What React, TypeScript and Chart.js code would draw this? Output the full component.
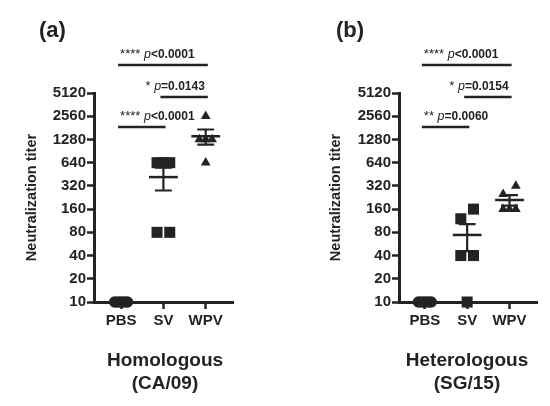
import React, { useEffect, useRef } from "react";
import { Chart, registerables } from "chart.js";

Chart.register(...registerables);

// ---------- data ----------
const groups = ["PBS", "SV", "WPV"];
const yTicks = [10, 20, 40, 80, 160, 320, 640, 1280, 2560, 5120];

const homoPBS = [10, 10, 10, 10, 10];
const homoSV = [640, 640, 640, 80, 80];
const homoWPV = [2560, 1280, 1280, 1280, 640];

const heteroPBS = [10, 10, 10, 10, 10];
const heteroSV = [160, 120, 40, 40, 10];
const heteroWPV = [320, 250, 160, 160, 160];

const homoFrom = [0, 1, 0];
const homoTo = [2, 2, 1];
const homoStars = ["****", "*", "****"];
const homoP = ["<0.0001", "=0.0143", "<0.0001"];

const heteroFrom = [0, 1, 0];
const heteroTo = [2, 2, 1];
const heteroStars = ["****", "*", "**"];
const heteroP = ["<0.0001", "=0.0154", "=0.0060"];

// ---------- style ----------
const FONT = '"Liberation Sans", Arial, Helvetica, sans-serif';
const INK = "#232323";

function spread(values: number[]): number[] {
  const idx = values.map((_, i) => i).sort((a, b) => values[a] - values[b]);
  const offs = new Array(values.length).fill(0);
  let g: number[] = [];
  const flush = () => {
    const n = g.length;
    if (n > 1) {
      const step = 0.3 / (n - 1);
      g.forEach((k, j) => (offs[k] = -0.15 + j * step));
    }
    g = [];
  };
  for (const k of idx) {
    if (g.length && Math.log2(values[k] / values[g[g.length - 1]]) > 0.5) flush();
    g.push(k);
  }
  flush();
  return offs;
}

type PanelCfg = {
  label: string;
  sub: string[];
  values: number[][];
  from: number[];
  to: number[];
  stars: string[];
  pvals: string[];
  xMin: number;
  xMax: number;
  yW: number;
  padR: number;
  titleX: number;
  labelX: number;
  subX: number;
};

const styles = ["circle", "rect", "triangle"];
const radii = [5.8, 7.8, 5.6];

function makeChart(canvas: HTMLCanvasElement, p: PanelCfg) {
  const datasets = p.values.map((arr, gi) => {
    const offs = spread(arr);
    return {
      label: groups[gi],
      data: arr.map((v, i) => ({ x: gi + offs[i], y: v })),
      pointStyle: styles[gi],
      pointRadius: radii[gi],
      pointBackgroundColor: INK,
      pointBorderWidth: 0,
      showLine: false,
      clip: false as any,
    };
  });

  const overlay = {
    id: "overlay",
    afterDatasetsDraw(chart: any) {
      const ctx = chart.ctx as CanvasRenderingContext2D;
      const xs = chart.scales.x;
      const ys = chart.scales.y;
      ctx.save();
      ctx.strokeStyle = INK;
      ctx.lineCap = "butt";
      p.values.forEach((arr, gi) => {
        const n = arr.length;
        const mean = arr.reduce((a, b) => a + b, 0) / n;
        const sd = Math.sqrt(arr.reduce((a, b) => a + (b - mean) * (b - mean), 0) / (n - 1));
        const sem = sd / Math.sqrt(n);
        if (sem === 0) return;
        const cx = xs.getPixelForValue(gi);
        const hw = xs.getPixelForValue(gi + 0.34) - cx;
        const cw = xs.getPixelForValue(gi + 0.2) - cx;
        const ym = ys.getPixelForValue(mean);
        const yt = ys.getPixelForValue(mean + sem);
        const yb = ys.getPixelForValue(mean - sem);
        ctx.lineWidth = 2.2;
        ctx.beginPath();
        ctx.moveTo(cx, yt);
        ctx.lineTo(cx, yb);
        ctx.moveTo(cx - cw, yt);
        ctx.lineTo(cx + cw, yt);
        ctx.moveTo(cx - cw, yb);
        ctx.lineTo(cx + cw, yb);
        ctx.stroke();
        ctx.lineWidth = 2.5;
        ctx.beginPath();
        ctx.moveTo(cx - hw, ym);
        ctx.lineTo(cx + hw, ym);
        ctx.stroke();
      });
      ctx.restore();
    },
    afterDraw(chart: any) {
      const ctx = chart.ctx as CanvasRenderingContext2D;
      const xs = chart.scales.x;
      const area = chart.chartArea;
      ctx.save();
      ctx.fillStyle = INK;
      ctx.strokeStyle = INK;

      // significance bars
      const barOffsets = [-28, 4, 34];
      p.from.forEach((f, k) => {
        const t = p.to[k];
        const x1 = xs.getPixelForValue(f - 0.07);
        const x2 = xs.getPixelForValue(t + 0.05);
        const by = area.top + barOffsets[k];
        ctx.lineWidth = 2.6;
        ctx.beginPath();
        ctx.moveTo(x1, by);
        ctx.lineTo(x2, by);
        ctx.stroke();

        const fStar = `13px ${FONT}`;
        const fP = `italic 12.5px ${FONT}`;
        const fV = `bold 12px ${FONT}`;
        ctx.font = fStar;
        const wS = ctx.measureText(p.stars[k] + " ").width;
        ctx.font = fP;
        const wP = ctx.measureText("p").width;
        ctx.font = fV;
        const wV = ctx.measureText(p.pvals[k]).width;
        const total = wS + wP + wV;
        let tx = f === 0 ? x1 + 2 : x2 - 3 - total;
        const base = by - 7.5;
        ctx.textBaseline = "alphabetic";
        ctx.textAlign = "left";
        ctx.font = fStar;
        ctx.fillText(p.stars[k] + " ", tx, base);
        tx += wS;
        ctx.font = fP;
        ctx.fillText("p", tx, base);
        tx += wP;
        ctx.font = fV;
        ctx.fillText(p.pvals[k], tx, base);
      });

      // panel label
      ctx.font = `bold 22px ${FONT}`;
      ctx.textAlign = "left";
      ctx.textBaseline = "alphabetic";
      ctx.fillText(p.label, p.labelX, 37);

      // subtitle
      ctx.font = `bold 19px ${FONT}`;
      ctx.textAlign = "center";
      ctx.fillText(p.sub[0], p.subX, 366);
      ctx.fillText(p.sub[1], p.subX, 389);

      // y title
      ctx.translate(p.titleX, (area.top + area.bottom) / 2);
      ctx.rotate(-Math.PI / 2);
      ctx.font = `bold 14.5px ${FONT}`;
      ctx.textAlign = "center";
      ctx.textBaseline = "middle";
      ctx.fillText("Neutralization titer", 0, 0);
      ctx.restore();
    },
  };

  const tickFont = { family: FONT, size: 15, weight: "bold" as const };

  return new Chart(canvas, {
    type: "scatter",
    data: { datasets: datasets as any },
    options: {
      responsive: false,
      animation: false,
      layout: { padding: { left: 0, right: p.padR, top: 93, bottom: 64 } },
      plugins: { legend: { display: false }, tooltip: { enabled: false } },
      scales: {
        x: {
          type: "linear",
          min: p.xMin,
          max: p.xMax,
          afterBuildTicks: (s: any) => {
            s.ticks = [0, 1, 2].map((v) => ({ value: v }));
          },
          afterFit: (s: any) => {
            s.height = 40;
          },
          grid: {
            drawOnChartArea: false,
            drawTicks: true,
            tickLength: 7,
            tickWidth: 2.5,
            tickColor: INK,
            color: INK,
          },
          border: { display: true, width: 3, color: INK },
          ticks: {
            autoSkip: false,
            maxRotation: 0,
            padding: 3,
            color: INK,
            font: tickFont,
            callback: (v: any) => groups[Math.round(Number(v))] ?? "",
          },
        },
        y: {
          type: "logarithmic",
          min: 10,
          max: 5120,
          afterBuildTicks: (s: any) => {
            s.ticks = yTicks.map((v) => ({ value: v }));
          },
          afterFit: (s: any) => {
            s.width = p.yW;
          },
          grid: {
            drawOnChartArea: false,
            drawTicks: true,
            tickLength: 7,
            tickWidth: 2.5,
            tickColor: INK,
            color: INK,
          },
          border: { display: true, width: 3, color: INK },
          ticks: {
            autoSkip: false,
            padding: 1,
            color: INK,
            font: tickFont,
            callback: (v: any) => String(v),
          },
        },
      },
    },
    plugins: [overlay],
  } as any);
}

const panelA: PanelCfg = {
  label: "(a)",
  sub: ["Homologous", "(CA/09)"],
  values: [homoPBS, homoSV, homoWPV],
  from: homoFrom,
  to: homoTo,
  stars: homoStars,
  pvals: homoP,
  xMin: -0.64,
  xMax: 2.645,
  yW: 94,
  padR: 42,
  titleX: 32,
  labelX: 39,
  subX: 165,
};

const panelB: PanelCfg = {
  label: "(b)",
  sub: ["Heterologous", "(SG/15)"],
  values: [heteroPBS, heteroSV, heteroWPV],
  from: heteroFrom,
  to: heteroTo,
  stars: heteroStars,
  pvals: heteroP,
  xMin: -0.61,
  xMax: 2.65,
  yW: 124,
  padR: 13,
  titleX: 61,
  labelX: 61,
  subX: 192,
};

function Panel({ cfg, left }: { cfg: PanelCfg; left: number }) {
  const ref = useRef<HTMLCanvasElement>(null);
  useEffect(() => {
    if (!ref.current) return;
    const c = makeChart(ref.current, cfg);
    return () => c.destroy();
  }, [cfg]);
  return (
    <canvas
      ref={ref}
      width={275}
      height={406}
      style={{ position: "absolute", left, top: 0, width: 275, height: 406, display: "block" }}
    />
  );
}

export default function App() {
  return (
    <div
      style={{
        position: "fixed",
        left: 0,
        top: 0,
        width: 550,
        height: 406,
        background: "#ffffff",
        overflow: "hidden",
      }}
    >
      <Panel cfg={panelA} left={0} />
      <Panel cfg={panelB} left={275} />
    </div>
  );
}
